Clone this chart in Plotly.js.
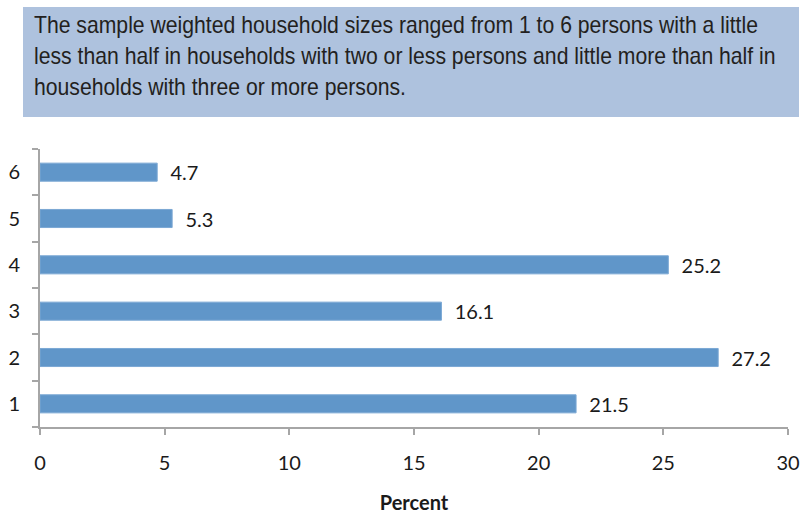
<!DOCTYPE html>
<html>
<head>
<meta charset="utf-8">
<script src="https://cdn.plot.ly/plotly-3.0.1.min.js"></script>
<style>html,body{margin:0;padding:0;background:#fff;}</style>
</head>
<body>
<div id="chart" style="width:801px;height:514px;"></div>
<script>
const categories = ['1', '2', '3', '4', '5', '6'];
const percents = [21.5, 27.2, 16.1, 25.2, 5.3, 4.7];
const xTicks = [0, 5, 10, 15, 20, 25, 30];
const headline = 'The sample weighted household sizes ranged from 1 to 6 persons with a little<br>less than half in households with two or less persons and little more than half in<br>households with three or more persons.';
const xTitle = 'Percent';

const W = 801, H = 514;
const L = 40, R = 788, T = 149, B = 427;
const px = x => (x - L) / (R - L);
const py = y => (B - y) / (B - T);

const trace = {
  type: 'bar',
  orientation: 'h',
  x: percents,
  y: categories,
  marker: {color: '#6096c9', line: {color: '#7ba8d4', width: 1}},
  text: percents.map(v => '\u00a0\u00a0' + v.toFixed(1)),
  textposition: 'outside',
  textfont: {family: 'Lato, sans-serif', size: 20, color: '#1a1a1a'},
  constraintext: 'none',
  cliponaxis: false,
  hoverinfo: 'skip'
};

const layout = {
  width: W, height: H,
  margin: {l: L, r: W - R, t: T, b: H - B, pad: 0},
  paper_bgcolor: '#fff',
  plot_bgcolor: '#fff',
  showlegend: false,
  bargap: 0.61,
  font: {family: 'Lato, sans-serif', size: 20, color: '#1a1a1a'},
  xaxis: {
    range: [0, 30],
    tickvals: xTicks,
    ticktext: xTicks.map(String),
    ticks: 'outside', ticklen: 6, tickwidth: 2, tickcolor: '#a6a6a6',
    showline: true, linecolor: '#a6a6a6', linewidth: 2,
    showgrid: false, zeroline: false,
    ticklabelstandoff: 11,
    tickfont: {family: 'Lato, sans-serif', size: 20, color: '#1a1a1a'},
    title: {text: '<b>' + xTitle + '</b>', font: {family: 'Lato, sans-serif', size: 20, color: '#1a1a1a'}, standoff: 34}
  },
  yaxis: {
    type: 'category',
    categoryorder: 'array', categoryarray: categories,
    tickson: 'boundaries',
    ticks: 'outside', ticklen: 6, tickwidth: 2, tickcolor: '#a6a6a6',
    showline: true, linecolor: '#a6a6a6', linewidth: 2,
    showgrid: false, zeroline: false,
    ticklabelstandoff: 14,
    tickfont: {family: 'Lato, sans-serif', size: 20, color: '#1a1a1a'}
  },
  shapes: [{
    type: 'rect', xref: 'paper', yref: 'paper',
    x0: px(23), x1: px(799), y0: py(117), y1: py(7),
    fillcolor: '#aec2de', line: {width: 0}, layer: 'below'
  }],
  annotations: [{
    xref: 'paper', yref: 'paper',
    x: px(32), y: py(9),
    xanchor: 'left', yanchor: 'top',
    align: 'left', showarrow: false,
    text: headline,
    font: {family: '"Liberation Sans", Arial, sans-serif', size: 24, color: '#231f20'}
  }]
};

Plotly.newPlot('chart', [trace], layout, {displayModeBar: false, staticPlot: true}).then(() => {
  // condense the headline text to mimic the narrow font of the original
  const t = document.querySelector('#chart .annotation-text');
  if (t) {
    const bb = t.getBBox();
    const s = 742 / bb.width;
    t.setAttribute('transform', 'translate(' + (bb.x * (1 - s)) + ',0) scale(' + s + ',1)');
  }
});
</script>
</body>
</html>
